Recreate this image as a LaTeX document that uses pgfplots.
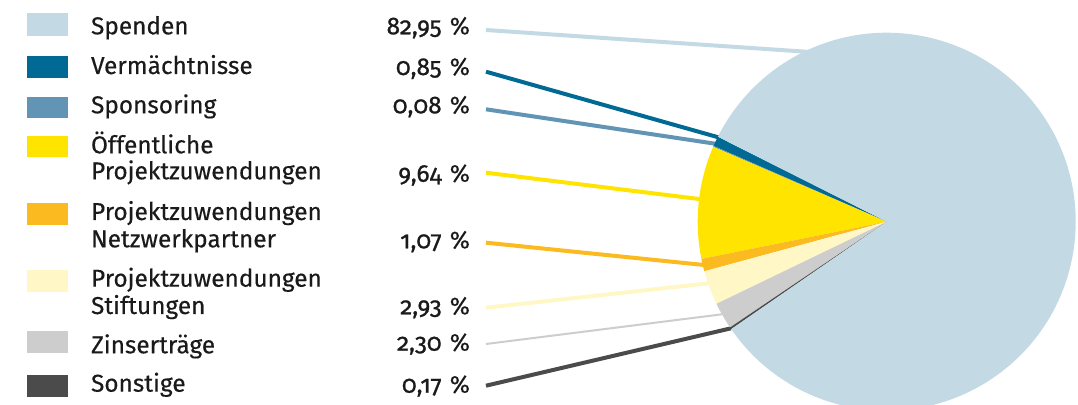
\documentclass[border=0pt]{standalone}
\usepackage{pgfplots}
\pgfplotsset{compat=1.18}
\usepackage{fontspec}
\setmainfont{Fira Sans}[FakeBold=0.35]
\newfontfamily\numfont{Fira Sans}[Numbers=OldStyle, FakeBold=0.9]

\definecolor{cSpe}{HTML}{C3D9E4}
\definecolor{cVer}{HTML}{006A94}
\definecolor{cSpo}{HTML}{6194B5}
\definecolor{cOef}{HTML}{FFE400}
\definecolor{cNet}{HTML}{FBBA20}
\definecolor{cSti}{HTML}{FFF7C6}
\definecolor{cZin}{HTML}{CDCDCD}
\definecolor{cSon}{HTML}{4B4B4B}
\definecolor{txt}{HTML}{1A1A1A}

% shares in percent
\def\vVer{0.85}
\def\vSpo{0.08}
\def\vOef{9.64}
\def\vNet{1.07}
\def\vSti{2.93}
\def\vZin{2.30}
\def\vSon{0.17}
\def\vSpe{82.95}

% cumulative angles, pie starts at 153.3 deg and runs counter-clockwise
\pgfmathsetmacro\aA{153.3}
\pgfmathsetmacro\aB{\aA+3.6*\vVer}
\pgfmathsetmacro\aC{\aB+3.6*\vSpo}
\pgfmathsetmacro\aD{\aC+3.6*\vOef}
\pgfmathsetmacro\aE{\aD+3.6*\vNet}
\pgfmathsetmacro\aF{\aE+3.6*\vSti}
\pgfmathsetmacro\aG{\aF+3.6*\vZin}
\pgfmathsetmacro\aH{\aG+3.6*\vSon}
\pgfmathsetmacro\aI{\aH+3.6*\vSpe}
\def\R{94.5pt}
\def\slice#1#2#3{%
  \fill[#1] (axis cs:886.7,221.7) -- ++(#2:\R) arc[start angle=#2, end angle=#3, radius=\R] -- cycle;}
\newcommand\pct[1]{{\numfont #1}\,\,\%}

\begin{document}
\begin{tikzpicture}[font=\fontsize{12.2}{14}\selectfont, text=txt]
\begin{axis}[
    hide axis,
    x=0.5pt, y=0.5pt,
    xmin=0, xmax=1078, ymin=0, ymax=405,
    y dir=reverse,
    every node/.style={inner sep=0pt},
]
% leader lines
\addplot[cSpe, line width=2pt] coordinates {(486,30) (810,52)};
\addplot[cVer, line width=2pt] coordinates {(486,71.7) (719,137.5)};
\addplot[cSpo, line width=2pt] coordinates {(486,109.3) (717,144)};
\addplot[cOef, line width=2pt] coordinates {(486,172.7) (699,199)};
\addplot[cNet, line width=2pt] coordinates {(486,242.7) (704,265)};
\addplot[cSti, line width=2pt] coordinates {(486,307.7) (709,283.3)};
\addplot[cZin, line width=1pt] coordinates {(486,344) (722,314.3)};
\addplot[cSon, line width=2pt] coordinates {(486,385.7) (731,328.3)};

% pie
\slice{cVer}{\aA}{\aB}
\slice{cSpo}{\aB}{\aC}
\slice{cOef}{\aC}{\aD}
\slice{cNet}{\aD}{\aE}
\slice{cSti}{\aE}{\aF}
\slice{cZin}{\aF}{\aG}
\slice{cSon}{\aG}{\aH}
\slice{cSpe}{\aH}{\aI}

% legend boxes
\fill[cSpe] (axis cs:27.3,13.3) rectangle (axis cs:67.7,35.7);
\fill[cVer] (axis cs:27.3,56) rectangle (axis cs:67.7,77.7);
\fill[cSpo] (axis cs:27.3,96.7) rectangle (axis cs:67.7,118.3);
\fill[cOef] (axis cs:27.3,135.7) rectangle (axis cs:67.7,157.3);
\fill[cNet] (axis cs:27.3,203.3) rectangle (axis cs:67.7,225);
\fill[cSti] (axis cs:27.3,270) rectangle (axis cs:67.7,291.7);
\fill[cZin] (axis cs:27.3,331) rectangle (axis cs:67.7,352.7);
\fill[cSon] (axis cs:27.3,375) rectangle (axis cs:67.7,396.7);

% legend labels
\node[anchor=base west] at (axis cs:84,34.3) {Spenden};
\node[anchor=base west] at (axis cs:84,74) {Vermächtnisse};
\node[anchor=base west] at (axis cs:84,113.3) {Sponsoring};
\node[anchor=base west] at (axis cs:84,153.3) {Öffentliche};
\node[anchor=base west] at (axis cs:84,179.3) {Projektzuwendungen};
\node[anchor=base west] at (axis cs:84,220) {Projektzuwendungen};
\node[anchor=base west] at (axis cs:84,247.3) {Netzwerkpartner};
\node[anchor=base west] at (axis cs:84,286.7) {Projektzuwendungen};
\node[anchor=base west] at (axis cs:84,314) {Stiftungen};
\node[anchor=base west] at (axis cs:84,353.3) {Zinserträge};
\node[anchor=base west] at (axis cs:84,391.7) {Sonstige};

% percentages
\node[anchor=base east] at (axis cs:477,34.3) {\pct{82,95}};
\node[anchor=base east] at (axis cs:477,75) {\pct{0,85}};
\node[anchor=base east] at (axis cs:477,113.3) {\pct{0,08}};
\node[anchor=base east] at (axis cs:477,181.7) {\pct{9,64}};
\node[anchor=base east] at (axis cs:477,248.3) {\pct{1,07}};
\node[anchor=base east] at (axis cs:477,314.3) {\pct{2,93}};
\node[anchor=base east] at (axis cs:477,350.7) {\pct{2,30}};
\node[anchor=base east] at (axis cs:477,392.7) {\pct{0,17}};

\coordinate (bbA) at (rel axis cs:0,0);
\coordinate (bbB) at (rel axis cs:1,1);
\end{axis}
\pgfresetboundingbox
\path[use as bounding box] (bbA) rectangle (bbB);
\end{tikzpicture}
\end{document}
